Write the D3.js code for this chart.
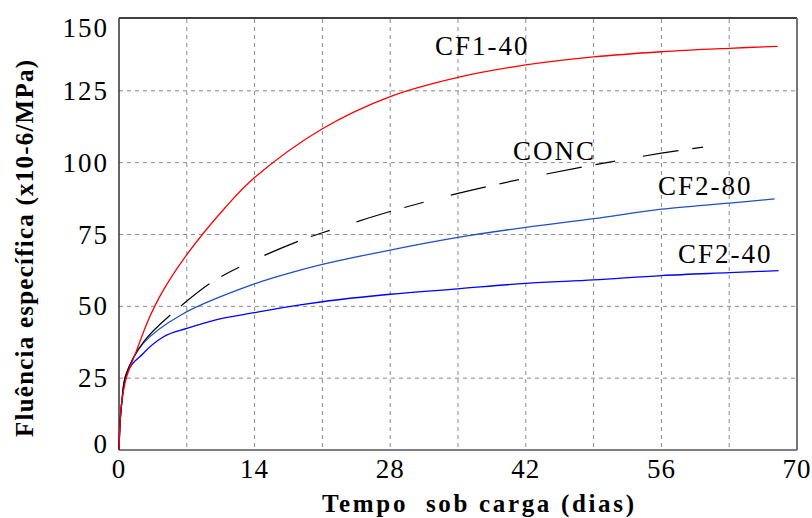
<!DOCTYPE html>
<html>
<head>
<meta charset="utf-8">
<script src="https://cdn.jsdelivr.net/npm/d3@7"></script>
<style>
  body { margin: 0; background: #fff; }
  svg text { font-family: "Liberation Serif", "Times New Roman", serif; }
</style>
</head>
<body>
<script>
// values (days, x10-6/MPa)
var cf140T = [0, 0.1, 0.3, 0.75, 1.8, 3, 4.3, 7, 11, 14, 21, 28, 35, 42, 49, 56, 63, 68];
var cf140V = [0, 9, 17, 25, 34.5, 45, 54, 68, 84.5, 94.8, 111.8, 123, 129.7, 134, 136.8, 138.6, 139.8, 140.5];

var concT = [0, 0.1, 0.3, 0.7, 2.5, 5.3, 9.4, 13.9, 19, 21, 28, 35, 42, 49, 56, 60.3];
var concV = [0, 9, 17, 26, 37.5, 47, 58, 66, 73.3, 75.6, 83, 89.3, 94.6, 99.2, 103.3, 105.4];
var concSolidUntil = 5.3;

var cf280T = [0, 0.1, 0.3, 0.7, 2.5, 6.4, 13.9, 18.7, 21, 28, 35, 42, 49, 56, 63, 67.7];
var cf280V = [0, 9, 17, 26, 37.1, 47, 57.7, 62.6, 64.6, 69.6, 74, 77.5, 80.5, 83.8, 85.9, 87.4];

var cf240T = [0, 0.1, 0.3, 0.7, 2.5, 4.6, 7, 10, 14, 18.7, 21, 28, 35, 42, 49, 56, 63, 68.1];
var cf240V = [0, 9, 17, 25.7, 33.6, 39.4, 42.3, 45.3, 47.8, 50.5, 51.6, 54.2, 56.1, 58, 59.2, 60.7, 61.7, 62.4];

var xTicks = [0, 14, 28, 42, 56, 70];
var xGrid = [7, 14, 21, 28, 35, 42, 49, 56, 63];
var yTicks = [0, 25, 50, 75, 100, 125, 150];
var yGrid = [25, 50, 75, 100, 125];

var W = 812, H = 518;
var mLeft = 119, mRight = 797, mTop = 19, mBottom = 450;

var svg = d3.select('body').append('svg')
    .attr('width', W).attr('height', H)
    .attr('font-family', '"Liberation Serif", "Times New Roman", serif');

var x = d3.scaleLinear().domain([0, 70]).range([mLeft, mRight]);
var y = d3.scaleLinear().domain([0, 150]).range([mBottom, mTop]);

// grid
svg.append('g').selectAll('line').data(xGrid).enter().append('line')
    .attr('x1', d => x(d)).attr('x2', d => x(d))
    .attr('y1', mTop).attr('y2', mBottom)
    .attr('stroke', '#8a8a8a').attr('stroke-width', 1)
    .attr('stroke-dasharray', '4,4');
svg.append('g').selectAll('line').data(yGrid).enter().append('line')
    .attr('x1', mLeft).attr('x2', mRight)
    .attr('y1', d => y(d)).attr('y2', d => y(d))
    .attr('stroke', '#8a8a8a').attr('stroke-width', 1)
    .attr('stroke-dasharray', '4,4');

// frame
svg.append('line').attr('x1', mLeft).attr('x2', mRight).attr('y1', mTop - 1).attr('y2', mTop - 1)
    .attr('stroke', '#000').attr('stroke-width', 1.5);
svg.append('line').attr('x1', mRight).attr('x2', mRight).attr('y1', mTop - 1).attr('y2', mBottom)
    .attr('stroke', '#777').attr('stroke-width', 2);
svg.append('line').attr('x1', mLeft).attr('x2', mRight).attr('y1', mBottom).attr('y2', mBottom)
    .attr('stroke', '#555').attr('stroke-width', 1.5);
svg.append('line').attr('x1', mLeft).attr('x2', mLeft).attr('y1', mTop - 1).attr('y2', mBottom)
    .attr('stroke', '#333').attr('stroke-width', 1.5);

// tick labels
svg.append('g').selectAll('text').data(xTicks).enter().append('text')
    .attr('x', d => x(d)).attr('y', 478)
    .attr('text-anchor', 'middle')
    .attr('font-size', 27).attr('letter-spacing', 1)
    .text(d => d);
svg.append('g').selectAll('text').data(yTicks).enter().append('text')
    .attr('x', 109)
    .attr('y', d => d === 150 ? y(d) + 18 : d === 0 ? y(d) + 3 : y(d) + 9)
    .attr('text-anchor', 'end')
    .attr('font-size', 27).attr('letter-spacing', 2)
    .text(d => d);

// axis titles
svg.append('text')
    .attr('x', 322).attr('y', 512)
    .attr('font-size', 25).attr('font-weight', 'bold')
    .attr('textLength', 312).attr('lengthAdjust', 'spacing')
    .style('white-space', 'pre')
    .text('Tempo  sob carga (dias)');
svg.append('text')
    .attr('transform', 'translate(33,248.5) rotate(-90)')
    .attr('text-anchor', 'middle')
    .attr('font-size', 25).attr('font-weight', 'bold')
    .attr('textLength', 377).attr('lengthAdjust', 'spacing')
    .text('Fluência específica (x10-6/MPa)');

// curves
var line = d3.line().x(d => x(d[0])).y(d => y(d[1])).curve(d3.curveMonotoneX);
var smooth = d3.line().x(d => x(d[0])).y(d => y(d[1])).curve(d3.curveCatmullRom.alpha(0.5));
function pts(t, v) { return t.map((d, i) => [d, v[i]]); }

svg.append('path').datum(pts(cf240T, cf240V)).attr('d', line)
    .attr('fill', 'none').attr('stroke', '#0000ff').attr('stroke-width', 1.3);
svg.append('path').datum(pts(cf280T, cf280V)).attr('d', smooth)
    .attr('fill', 'none').attr('stroke', '#1f4fc4').attr('stroke-width', 1.3);

var concPts = pts(concT, concV);
svg.append('path').datum(concPts.filter(d => d[0] <= concSolidUntil)).attr('d', smooth)
    .attr('fill', 'none').attr('stroke', '#000').attr('stroke-width', 1.2);
svg.append('path').datum(concPts.filter(d => d[0] >= concSolidUntil)).attr('d', smooth)
    .attr('fill', 'none').attr('stroke', '#000').attr('stroke-width', 1.2)
    .attr('stroke-dasharray', '0,14,36,14,20,14');

svg.append('path').datum(pts(cf140T, cf140V)).attr('d', smooth)
    .attr('fill', 'none').attr('stroke', '#ff0000').attr('stroke-width', 1.3);

// curve labels
var labels = [
  { name: 'CF1-40', x: 435, y: 55 },
  { name: 'CONC', x: 513, y: 160 },
  { name: 'CF2-80', x: 658, y: 195 },
  { name: 'CF2-40', x: 678, y: 263 }
];
svg.append('g').selectAll('text').data(labels).enter().append('text')
    .attr('x', d => d.x).attr('y', d => d.y)
    .attr('font-size', 27).attr('letter-spacing', 2)
    .text(d => d.name);
</script>
</body>
</html>
